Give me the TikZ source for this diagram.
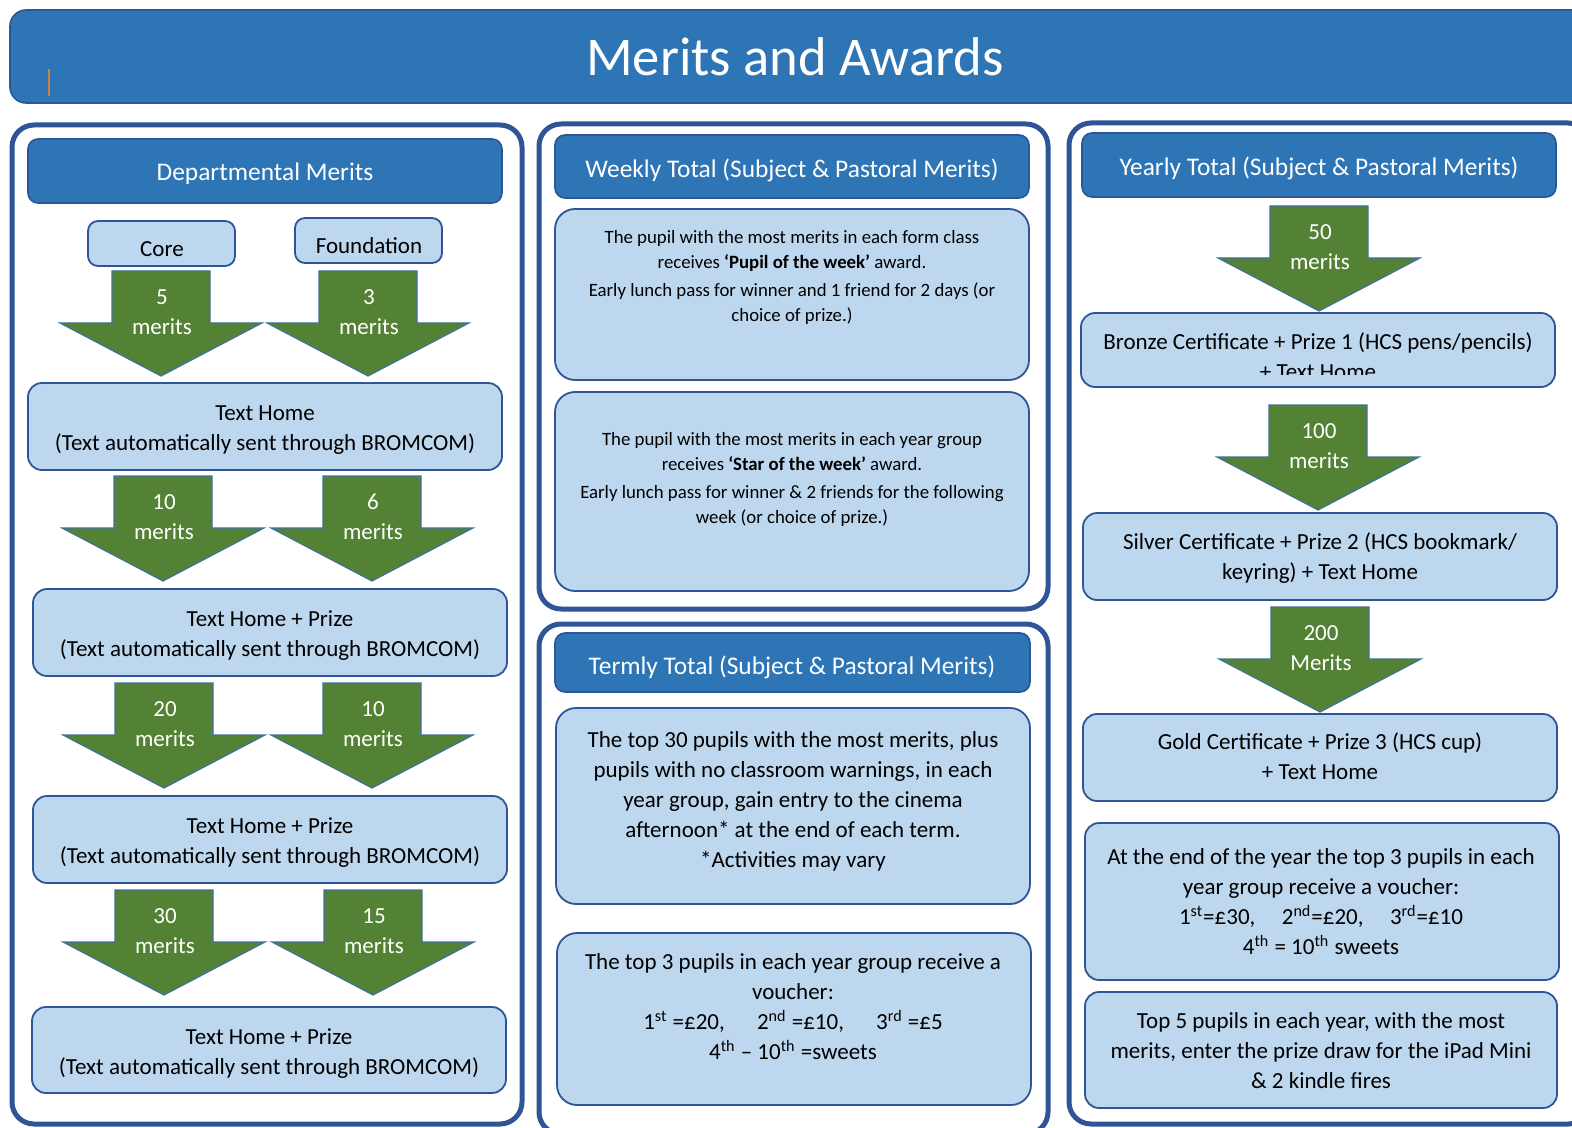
\documentclass[tikz,border=0pt]{standalone}
\usepackage{fontspec}
\setmainfont{Carlito}
\usepackage{tikz}
\usetikzlibrary{positioning}
\definecolor{headblue}{RGB}{46,117,182}
\definecolor{edgeblue}{RGB}{47,85,151}
\definecolor{paleblue}{RGB}{189,215,238}
\definecolor{meritgreen}{RGB}{84,130,53}
\definecolor{arrowedge}{RGB}{65,113,156}
\definecolor{cursororange}{RGB}{197,134,70}

\begin{document}
\begin{tikzpicture}[x=0.5pt,y=-0.5pt,
    panel/.style={draw=edgeblue, line width=2.5pt, fill=white, rounded corners=11pt},
    headbar/.style={fill=headblue, draw=edgeblue, line width=0.8pt, rounded corners=5pt},
    palebox/.style={fill=paleblue, draw=edgeblue, line width=0.9pt, rounded corners=7pt},
    headtext/.style={text=white, yshift=-1.5pt, font=\fontsize{12.7}{15}\selectfont},
    bodytext/.style={align=center, yshift=-1.5pt, font=\fontsize{11.5}{15}\selectfont},
    smalltext/.style={align=center, yshift=-1.5pt, font=\fontsize{9.4}{12.5}\selectfont},
    meritarrow/.style={fill=meritgreen, draw=arrowedge, line width=0.6pt},
    arrowtext/.style={align=center, text=white, yshift=-1.5pt, font=\fontsize{11.5}{15}\selectfont}]
    \useasboundingbox (0,0) rectangle (1572,1128);
    \clip (0,0) rectangle (1572,1128);
    \fill[white] (0,0) rectangle (1572,1128);

    % Title bar
    \draw[headbar, rounded corners=8pt] (10,10) rectangle (1600,103);
    \node[text=white, font=\fontsize{27.3}{32}\selectfont] (title) at (795,57) {Merits and Awards};
    \draw[cursororange, line width=0.6pt] (49,69) -- (49,96);

    % Departmental merits
    \draw[panel] (12,125) rectangle (522,1124);
    \draw[headbar] (28,139) rectangle (502,203);
    \node[headtext] (dept) at (265,171) {Departmental Merits};
    \draw[palebox, rounded corners=5pt] (88,221) rectangle (235,266);
    \node[bodytext] (core) at (162,246) {Core};
    \draw[palebox, rounded corners=5pt] (295,218) rectangle (442,263);
    \node[bodytext] (found) at (369,243) {Foundation};
    \draw[palebox] (28,383) rectangle (502,470);
    \node[bodytext] (home1) at (265,427) {Text Home\\(Text automatically sent through BROMCOM)};
    \draw[palebox] (33,589) rectangle (507,676);
    \node[bodytext] (home2) at (270,633) {Text Home + Prize\\(Text automatically sent through BROMCOM)};
    \draw[palebox] (33,796) rectangle (507,883);
    \node[bodytext] (home3) at (270,840) {Text Home + Prize\\(Text automatically sent through BROMCOM)};
    \draw[palebox] (32,1007) rectangle (506,1093);
    \node[bodytext] (home4) at (269,1051) {Text Home + Prize\\(Text automatically sent through BROMCOM)};

    % Weekly total
    \draw[panel] (539,124) rectangle (1048,609);
    \draw[headbar] (555,135) rectangle (1029,198);
    \node[headtext] (weekhead) at (792,167) {Weekly Total (Subject \& Pastoral Merits)};
    \draw[palebox, rounded corners=10pt] (555,209) rectangle (1029,380);
    \node[smalltext] (week1) at (792,274) {The pupil with the most merits in each form class\\
        receives \textbf{‘Pupil of the week’} award.\\[1.5pt]
        Early lunch pass for winner and 1 friend for 2 days (or\\choice of prize.)};
    \draw[palebox, rounded corners=10pt] (555,392) rectangle (1029,591);
    \node[smalltext] (week2) at (792,476) {The pupil with the most merits in each year group\\
        receives \textbf{‘Star of the week’} award.\\[1.5pt]
        Early lunch pass for winner \& 2 friends for the following\\week (or choice of prize.)};

    % Termly total
    \draw[panel] (539,624) rectangle (1048,1134);
    \draw[headbar] (555,633) rectangle (1030,692);
    \node[headtext] (termhead) at (792,664) {Termly Total (Subject \& Pastoral Merits)};
    \draw[palebox, rounded corners=10pt] (556,708) rectangle (1030,904);
    \node[bodytext] (term1) at (793,798) {The top 30 pupils with the most merits, plus\\
        pupils with no classroom warnings, in each\\year group, gain entry to the cinema\\
        afternoon* at the end of each term.\\*Activities may vary};
    \draw[palebox, rounded corners=10pt] (557,933) rectangle (1031,1105);
    \node[bodytext] (term2) at (793,1004) {The top 3 pupils in each year group receive a\\voucher:\\
        1\textsuperscript{st} =£20,\hspace{1.4em}2\textsuperscript{nd} =£10,\hspace{1.4em}3\textsuperscript{rd} =£5\\
        4\textsuperscript{th} -- 10\textsuperscript{th} =sweets};

    % Yearly total
    \draw[panel] (1069,123) rectangle (1590,1124);
    \draw[headbar] (1082,133) rectangle (1556,197);
    \node[headtext] (yearhead) at (1319,165) {Yearly Total (Subject \& Pastoral Merits)};
    \draw[palebox] (1081,313) rectangle (1555,387);
    \begin{scope}
        \clip (1081,313) rectangle (1555,374);
        \node[bodytext] (bronze) at (1318,353) {Bronze Certificate + Prize 1 (HCS pens/pencils)\\+ Text Home};
    \end{scope}
    \draw[palebox] (1083,513) rectangle (1557,600);
    \node[bodytext] (silver) at (1320,555) {Silver Certificate + Prize 2 (HCS bookmark/\\keyring) + Text Home};
    \draw[palebox] (1083,714) rectangle (1557,801);
    \node[bodytext] (gold) at (1320,753) {Gold Certificate + Prize 3 (HCS cup)\\+ Text Home};
    \draw[palebox] (1085,823) rectangle (1559,980);
    \node[bodytext] (voucher) at (1321,899) {At the end of the year the top 3 pupils in each\\year group receive a voucher:\\
        1\textsuperscript{st}=£30,\hspace{1.15em}2\textsuperscript{nd}=£20,\hspace{1.15em}3\textsuperscript{rd}=£10\\
        4\textsuperscript{th} = 10\textsuperscript{th} sweets};
    \draw[palebox] (1085,992) rectangle (1557,1108);
    \node[bodytext] (draw) at (1321,1048) {Top 5 pupils in each year, with the most\\
        merits, enter the prize draw for the iPad Mini\\\& 2 kindle fires};

    % Merit arrows
    \foreach \cx/\ty/\num/\tag [count=\k] in {161/271/5/merits, 368/271/3/merits,
        163/476/10/merits, 372/476/6/merits, 164/683/20/merits, 372/683/10/merits,
        164/890/30/merits, 373/890/15/merits,
        1319/206/50/merits, 1318/405/100/merits, 1320/607/200/Merits} {
        \draw[meritarrow] (\cx-49,\ty) -- (\cx+49,\ty) -- (\cx+49,\ty+52) -- (\cx+101,\ty+52)
            -- (\cx,\ty+105) -- (\cx-101,\ty+52) -- (\cx-49,\ty+52) -- cycle;
        \node[arrowtext] (arrow\k) at (\cx+1,\ty+38) {\num\\\tag};
    }
\end{tikzpicture}
\end{document}
